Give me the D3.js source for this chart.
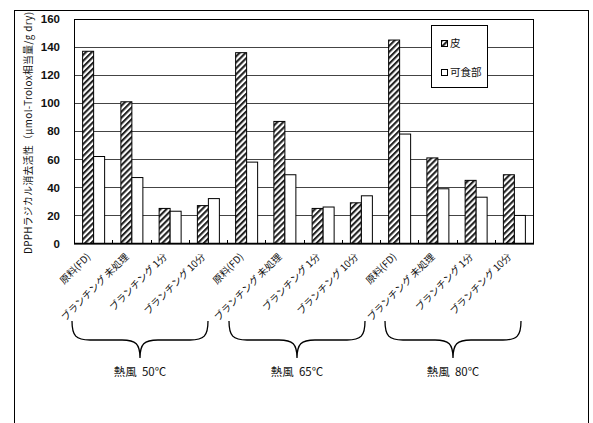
<!DOCTYPE html>
<html>
<head>
<meta charset="utf-8">
<script src="https://cdn.jsdelivr.net/npm/d3@7"></script>
<style>
  html, body { margin: 0; padding: 0; background: #fff; }
  svg { display: block; }
  .jp { font-family: "Noto Sans CJK JP", "Noto Sans", sans-serif; }
  .num { font-family: "Liberation Sans", Arial, sans-serif; }
</style>
</head>
<body>
<script>
// Treatment categories, grouped by hot-air drying temperature
const categories = [
  "原料(FD)", "ブランチング 未処理", "ブランチング 1分", "ブランチング 10分",
  "原料(FD)", "ブランチング 未処理", "ブランチング 1分", "ブランチング 10分",
  "原料(FD)", "ブランチング 未処理", "ブランチング 1分", "ブランチング 10分"
];
const groups = ["熱風\u00a0\u00a050℃", "熱風\u00a0\u00a065℃", "熱風\u00a0\u00a080℃"];
const seriesNames = ["皮", "可食部"];

// DPPH radical scavenging activity (μmol-Trolox eq./g dry)
const skinValues   = [137, 101, 25, 27, 136, 87, 25, 29, 145, 61, 45, 49];
const ediblValues  = [62, 47, 23, 32, 58, 49, 26, 34, 78, 39, 33, 20];

const yTicks = [0, 20, 40, 60, 80, 100, 120, 140, 160];
const yLabel = "DPPHラジカル消去活性（μmol-Trolox相当量/g dry)";

const W = 593, H = 423;
const plot = { left: 74, top: 19, right: 533, bottom: 243.5 };

const svg = d3.select("body").append("svg")
  .attr("width", W).attr("height", H);

const defs = svg.append("defs");
const hatch = defs.append("pattern")
  .attr("id", "hatch")
  .attr("patternUnits", "userSpaceOnUse")
  .attr("width", 4.2).attr("height", 4.2)
  .attr("patternTransform", "rotate(45)");
hatch.append("rect").attr("width", 4.2).attr("height", 4.2).attr("fill", "#fff");
hatch.append("rect").attr("width", 2.1).attr("height", 4.2).attr("fill", "#222");

// outer frame
svg.append("rect")
  .attr("x", 14.5).attr("y", 10.5)
  .attr("width", 574).attr("height", 520)
  .attr("fill", "none").attr("stroke", "#000").attr("stroke-width", 1);

const x = d3.scaleBand()
  .domain(d3.range(categories.length))
  .range([plot.left, plot.right])
  .paddingInner(0).paddingOuter(0);

const y = d3.scaleLinear().domain([0, 160]).range([plot.bottom, plot.top]);

// gridlines
svg.append("g")
  .selectAll("line")
  .data(yTicks.filter(t => t > 0 && t < 160))
  .join("line")
  .attr("x1", plot.left).attr("x2", plot.right)
  .attr("y1", d => Math.round(y(d)) + 0.5).attr("y2", d => Math.round(y(d)) + 0.5)
  .attr("stroke", "#444").attr("stroke-width", 1);

// plot box
svg.append("rect")
  .attr("x", plot.left + 0.5).attr("y", Math.round(plot.top) + 0.5)
  .attr("width", plot.right - plot.left)
  .attr("height", y(0) - y(160))
  .attr("fill", "none").attr("stroke", "#000").attr("stroke-width", 1);

// y tick labels
const yAxis = d3.axisLeft(y).tickValues(yTicks).tickSize(0).tickPadding(14);
const yg = svg.append("g").attr("transform", `translate(${plot.left},0)`).call(yAxis);
yg.select(".domain").remove();
yg.selectAll("text")
  .attr("class", "num")
  .attr("font-size", 11.5)
  .attr("font-weight", "bold")
  .attr("fill", "#111");

// bars
const barW = 11;
const bars = svg.append("g");
bars.selectAll("rect.skin")
  .data(skinValues)
  .join("rect")
  .attr("class", "skin")
  .attr("x", (d, i) => x(i) + x.bandwidth() / 2 - barW + 0.5)
  .attr("y", d => y(d))
  .attr("width", barW)
  .attr("height", d => y(0) - y(d))
  .attr("fill", "url(#hatch)")
  .attr("stroke", "#000").attr("stroke-width", 1);
bars.selectAll("rect.edible")
  .data(ediblValues)
  .join("rect")
  .attr("class", "edible")
  .attr("x", (d, i) => x(i) + x.bandwidth() / 2 + 0.5)
  .attr("y", d => y(d))
  .attr("width", barW)
  .attr("height", d => y(0) - y(d))
  .attr("fill", "#fff")
  .attr("stroke", "#000").attr("stroke-width", 1);

// x axis line with inward category ticks
const xg = svg.append("g");
xg.append("line")
  .attr("x1", plot.left).attr("x2", plot.right + 1)
  .attr("y1", y(0)).attr("y2", y(0))
  .attr("stroke", "#000").attr("stroke-width", 1.6);
xg.selectAll("line.tick")
  .data(d3.range(1, categories.length))
  .join("line")
  .attr("class", "tick")
  .attr("x1", i => Math.round(x(i)) + 0.5).attr("x2", i => Math.round(x(i)) + 0.5)
  .attr("y1", y(0)).attr("y2", y(0) - 3.5)
  .attr("stroke", "#000").attr("stroke-width", 1);

// rotated category labels
svg.append("g")
  .selectAll("text")
  .data(categories)
  .join("text")
  .attr("class", "jp")
  .attr("font-size", 9.8)
  .attr("fill", "#111")
  .attr("text-anchor", "end")
  .attr("transform", (d, i) => `translate(${x(i) + x.bandwidth() / 2 - 2},${y(0) + 14}) rotate(-45)`)
  .text(d => d);

// group braces
const braceTop = 321, braceMid = 340, braceTip = 358;
const braceShift = [-10.5, -6.5, -3.5];
const braceHalf = 68;
const bg = svg.append("g");
groups.forEach((g, gi) => {
  const first = gi * 4, last = gi * 4 + 3;
  const cx = (x(first) + x(last) + x.bandwidth()) / 2 + braceShift[gi];
  const x0 = cx - braceHalf, x1 = cx + braceHalf;
  const p = d3.path();
  p.moveTo(x0, braceTop);
  p.bezierCurveTo(x0, braceMid - 4, x0 + 4, braceMid, x0 + 18, braceMid);
  p.lineTo(cx - 18, braceMid);
  p.bezierCurveTo(cx - 4, braceMid, cx, braceMid + 4, cx, braceTip);
  p.bezierCurveTo(cx, braceMid + 4, cx + 4, braceMid, cx + 18, braceMid);
  p.lineTo(x1 - 18, braceMid);
  p.bezierCurveTo(x1 - 4, braceMid, x1, braceMid - 4, x1, braceTop);
  bg.append("path").attr("d", p.toString())
    .attr("fill", "none").attr("stroke", "#000").attr("stroke-width", 1.3);
  bg.append("text")
    .attr("class", "jp")
    .attr("x", cx).attr("y", 376)
    .attr("text-anchor", "middle")
    .attr("font-size", 11.5)
    .attr("fill", "#111")
    .text(g);
});

// y axis title
svg.append("text")
  .attr("class", "jp")
  .attr("font-size", 9.8)
  .attr("fill", "#111")
  .attr("text-anchor", "middle")
  .attr("textLength", 242)
  .attr("lengthAdjust", "spacing")
  .attr("transform", `translate(32,133) rotate(-90)`)
  .text(yLabel);

// legend
const lg = svg.append("g");
lg.append("rect")
  .attr("x", 431.5).attr("y", 25.5).attr("width", 56).attr("height", 62)
  .attr("fill", "#fff").attr("stroke", "#000").attr("stroke-width", 1);
const legendFills = ["url(#hatch)", "#fff"];
seriesNames.forEach((s, i) => {
  const ly = 40.5 + i * 29;
  lg.append("rect")
    .attr("x", 441.5).attr("y", ly).attr("width", 6).attr("height", 6)
    .attr("fill", legendFills[i]).attr("stroke", "#000").attr("stroke-width", 1);
  lg.append("text")
    .attr("class", "jp")
    .attr("x", 450).attr("y", ly + 6.5)
    .attr("font-size", 10.5)
    .attr("fill", "#111")
    .text(s);
});
</script>
</body>
</html>
